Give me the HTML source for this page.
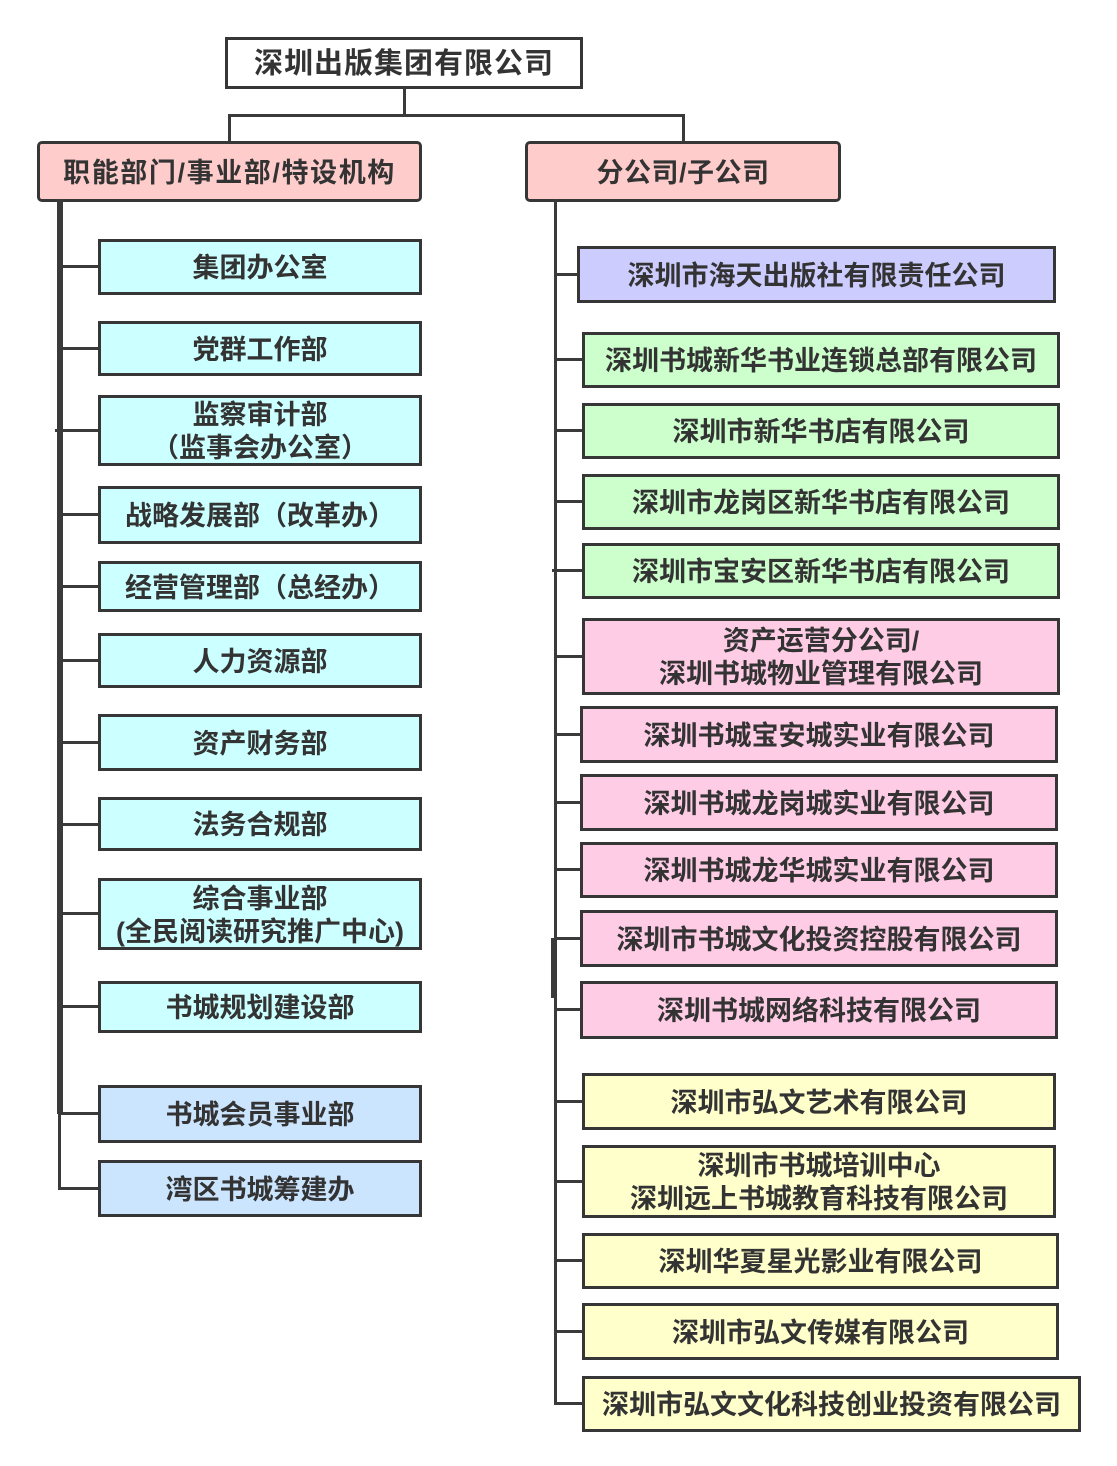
<!DOCTYPE html>
<html><head><meta charset="utf-8">
<style>
html,body{margin:0;padding:0;background:#fff;}
body{width:1117px;height:1466px;position:relative;overflow:hidden;}
.b{position:absolute;box-sizing:border-box;border:3px solid #363636;padding-top:3px;display:flex;align-items:center;justify-content:center;text-align:center;font-family:"Liberation Sans","Noto Sans CJK SC","WenQuanYi Zen Hei",sans-serif;font-weight:bold;font-size:27px;color:#333;letter-spacing:0px;line-height:33px;white-space:nowrap;}
.l{position:absolute;background:#3a3a3a;}
.c{background:#ccffff;}
.bl{background:#cce5ff;}
.pk{background:#ffcccc;border-radius:5px;}
.pu{background:#ccccff;}
.gr{background:#ccffcc;}
.pi{background:#ffcce6;}
.ye{background:#ffffcc;}
</style></head><body>

<!-- top -->
<div class="b" style="left:225px;top:37px;width:358px;height:52px;background:#fff;font-size:29px;letter-spacing:1px;">深圳出版集团有限公司</div>
<div class="l" style="left:403px;top:88px;width:3px;height:28px;"></div>
<div class="l" style="left:228px;top:114px;width:457px;height:3px;"></div>
<div class="l" style="left:228px;top:114px;width:3px;height:29px;"></div>
<div class="l" style="left:682px;top:114px;width:3px;height:29px;"></div>

<!-- headers -->
<div class="b pk" style="left:37px;top:141px;width:385px;height:61px;letter-spacing:1.6px;">职能部门/事业部/特设机构</div>
<div class="b pk" style="left:525px;top:141px;width:316px;height:61px;letter-spacing:0.5px;">分公司/子公司</div>

<!-- left spine -->
<div class="l" style="left:57px;top:199px;width:6px;height:915px;"></div>
<div class="l" style="left:58px;top:1110px;width:3px;height:80px;"></div>
<div class="l" style="left:58px;top:1187px;width:41px;height:3px;"></div>

<!-- left connectors -->
<div class="l" style="left:60px;top:265px;width:39px;height:3px;"></div>
<div class="l" style="left:60px;top:347px;width:39px;height:3px;"></div>
<div class="l" style="left:55px;top:429px;width:44px;height:3px;"></div>
<div class="l" style="left:60px;top:513px;width:39px;height:3px;"></div>
<div class="l" style="left:60px;top:585px;width:39px;height:3px;"></div>
<div class="l" style="left:60px;top:659px;width:39px;height:3px;"></div>
<div class="l" style="left:60px;top:741px;width:39px;height:3px;"></div>
<div class="l" style="left:60px;top:823px;width:39px;height:3px;"></div>
<div class="l" style="left:60px;top:912px;width:39px;height:3px;"></div>
<div class="l" style="left:60px;top:1005px;width:39px;height:3px;"></div>
<div class="l" style="left:60px;top:1112px;width:39px;height:3px;"></div>

<!-- left boxes -->
<div class="b c" style="left:98px;top:239px;width:324px;height:56px;">集团办公室</div>
<div class="b c" style="left:98px;top:321px;width:324px;height:55px;">党群工作部</div>
<div class="b c" style="left:98px;top:395px;width:324px;height:71px;">监察审计部<br>（监事会办公室）</div>
<div class="b c" style="left:98px;top:486px;width:324px;height:58px;">战略发展部（改革办）</div>
<div class="b c" style="left:98px;top:561px;width:324px;height:51px;">经营管理部（总经办）</div>
<div class="b c" style="left:98px;top:633px;width:324px;height:55px;">人力资源部</div>
<div class="b c" style="left:98px;top:714px;width:324px;height:57px;">资产财务部</div>
<div class="b c" style="left:98px;top:797px;width:324px;height:54px;">法务合规部</div>
<div class="b c" style="left:98px;top:878px;width:324px;height:72px;letter-spacing:0px;">综合事业部<br>(全民阅读研究推广中心)</div>
<div class="b c" style="left:98px;top:981px;width:324px;height:52px;">书城规划建设部</div>
<div class="b bl" style="left:98px;top:1085px;width:324px;height:58px;">书城会员事业部</div>
<div class="b bl" style="left:98px;top:1160px;width:324px;height:57px;">湾区书城筹建办</div>

<!-- right spine -->
<div class="l" style="left:554px;top:199px;width:3px;height:1206px;"></div>
<div class="l" style="left:551px;top:938px;width:6px;height:60px;"></div>

<!-- right connectors -->
<div class="l" style="left:555px;top:273px;width:23px;height:3px;"></div>
<div class="l" style="left:555px;top:358px;width:28px;height:3px;"></div>
<div class="l" style="left:555px;top:429px;width:28px;height:3px;"></div>
<div class="l" style="left:555px;top:500px;width:28px;height:3px;"></div>
<div class="l" style="left:552px;top:569px;width:31px;height:3px;"></div>
<div class="l" style="left:555px;top:655px;width:28px;height:3px;"></div>
<div class="l" style="left:555px;top:733px;width:26px;height:3px;"></div>
<div class="l" style="left:555px;top:801px;width:26px;height:3px;"></div>
<div class="l" style="left:555px;top:868px;width:26px;height:3px;"></div>
<div class="l" style="left:555px;top:937px;width:26px;height:3px;"></div>
<div class="l" style="left:555px;top:1008px;width:26px;height:3px;"></div>
<div class="l" style="left:555px;top:1100px;width:28px;height:3px;"></div>
<div class="l" style="left:555px;top:1180px;width:28px;height:3px;"></div>
<div class="l" style="left:555px;top:1259px;width:28px;height:3px;"></div>
<div class="l" style="left:555px;top:1330px;width:28px;height:3px;"></div>
<div class="l" style="left:554px;top:1402px;width:29px;height:3px;"></div>

<!-- right boxes -->
<div class="b pu" style="left:577px;top:246px;width:479px;height:57px;">深圳市海天出版社有限责任公司</div>
<div class="b gr" style="left:582px;top:332px;width:478px;height:56px;">深圳书城新华书业连锁总部有限公司</div>
<div class="b gr" style="left:582px;top:403px;width:478px;height:56px;">深圳市新华书店有限公司</div>
<div class="b gr" style="left:582px;top:474px;width:478px;height:56px;">深圳市龙岗区新华书店有限公司</div>
<div class="b gr" style="left:582px;top:543px;width:478px;height:56px;">深圳市宝安区新华书店有限公司</div>
<div class="b pi" style="left:582px;top:618px;width:478px;height:77px;">资产运营分公司/<br>深圳书城物业管理有限公司</div>
<div class="b pi" style="left:580px;top:706px;width:478px;height:57px;">深圳书城宝安城实业有限公司</div>
<div class="b pi" style="left:580px;top:774px;width:478px;height:57px;">深圳书城龙岗城实业有限公司</div>
<div class="b pi" style="left:580px;top:842px;width:478px;height:56px;">深圳书城龙华城实业有限公司</div>
<div class="b pi" style="left:580px;top:910px;width:478px;height:57px;">深圳市书城文化投资控股有限公司</div>
<div class="b pi" style="left:580px;top:981px;width:478px;height:58px;">深圳书城网络科技有限公司</div>
<div class="b ye" style="left:582px;top:1073px;width:474px;height:57px;">深圳市弘文艺术有限公司</div>
<div class="b ye" style="left:582px;top:1145px;width:474px;height:73px;">深圳市书城培训中心<br>深圳远上书城教育科技有限公司</div>
<div class="b ye" style="left:582px;top:1233px;width:477px;height:56px;">深圳华夏星光影业有限公司</div>
<div class="b ye" style="left:582px;top:1303px;width:477px;height:57px;">深圳市弘文传媒有限公司</div>
<div class="b ye" style="left:582px;top:1376px;width:499px;height:56px;">深圳市弘文文化科技创业投资有限公司</div>

</body></html>
